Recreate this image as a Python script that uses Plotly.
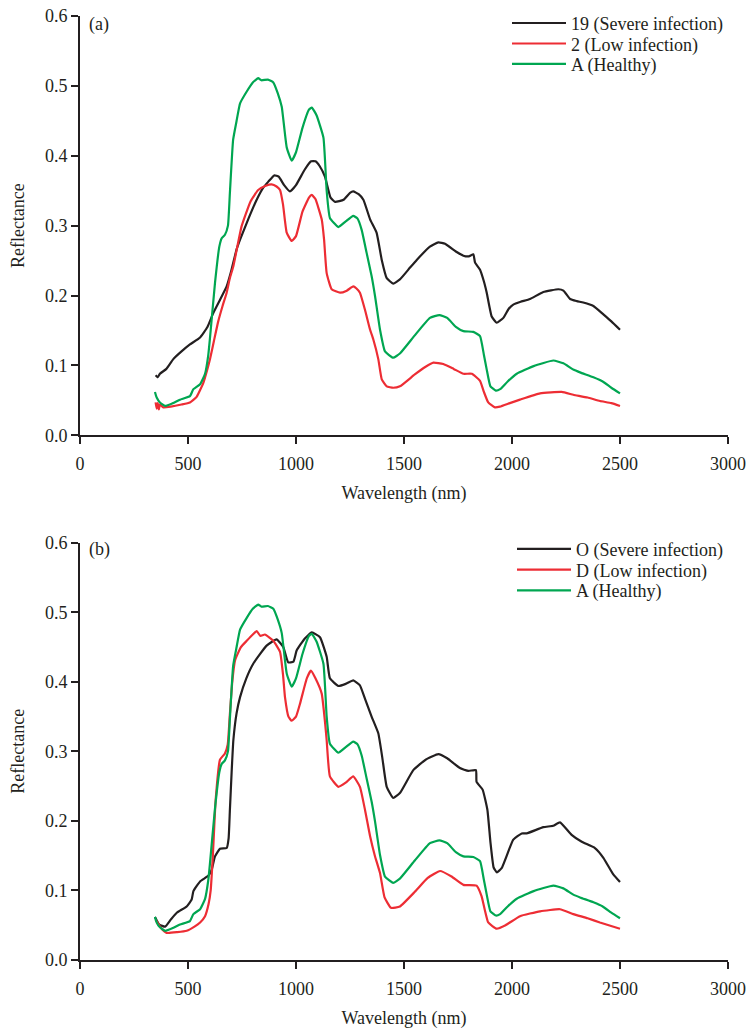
import plotly.graph_objects as go

# ---------------- data ----------------
# Panel (a)
a_black_wl = [350, 360, 370, 400, 432, 470, 509, 556, 590, 617, 650, 679, 700, 725, 741, 780, 818, 850, 872, 900, 920, 945, 972, 1000, 1040, 1070, 1090, 1110, 1134, 1160, 1181, 1220, 1250, 1265, 1290, 1312, 1343, 1373, 1397, 1420, 1450, 1481, 1528, 1559, 1620, 1659, 1690, 1740, 1775, 1800, 1821, 1829, 1852, 1870, 1883, 1906, 1929, 1960, 1985, 2006, 2040, 2083, 2145, 2215, 2238, 2269, 2300, 2330, 2377, 2423, 2460, 2500]
a_black = [0.086, 0.083, 0.088, 0.095, 0.109, 0.120, 0.130, 0.140, 0.155, 0.175, 0.195, 0.213, 0.235, 0.266, 0.280, 0.310, 0.337, 0.355, 0.363, 0.372, 0.370, 0.358, 0.349, 0.358, 0.380, 0.392, 0.392, 0.385, 0.370, 0.340, 0.334, 0.337, 0.347, 0.349, 0.345, 0.337, 0.309, 0.290, 0.251, 0.225, 0.217, 0.223, 0.240, 0.251, 0.270, 0.276, 0.274, 0.263, 0.257, 0.256, 0.259, 0.247, 0.237, 0.220, 0.204, 0.170, 0.161, 0.168, 0.181, 0.187, 0.191, 0.195, 0.205, 0.209, 0.207, 0.195, 0.192, 0.190, 0.185, 0.173, 0.163, 0.151]

a_red_wl = [350, 355, 360, 365, 370, 386, 420, 470, 509, 540, 571, 590, 602, 620, 640, 660, 679, 694, 710, 748, 790, 825, 860, 887, 910, 926, 940, 957, 980, 1000, 1030, 1060, 1073, 1090, 1119, 1130, 1142, 1165, 1204, 1235, 1265, 1280, 1296, 1319, 1343, 1358, 1381, 1397, 1420, 1450, 1481, 1550, 1600, 1636, 1682, 1730, 1775, 1814, 1852, 1870, 1890, 1921, 1944, 1990, 2037, 2130, 2230, 2284, 2350, 2407, 2460, 2500]
a_red = [0.047, 0.038, 0.046, 0.037, 0.044, 0.040, 0.041, 0.044, 0.047, 0.055, 0.075, 0.095, 0.109, 0.135, 0.163, 0.185, 0.204, 0.225, 0.242, 0.299, 0.335, 0.351, 0.357, 0.359, 0.356, 0.351, 0.330, 0.290, 0.278, 0.285, 0.320, 0.340, 0.344, 0.338, 0.309, 0.280, 0.232, 0.209, 0.204, 0.207, 0.213, 0.210, 0.204, 0.180, 0.151, 0.137, 0.109, 0.080, 0.070, 0.068, 0.070, 0.087, 0.098, 0.104, 0.102, 0.095, 0.088, 0.088, 0.078, 0.062, 0.047, 0.040, 0.041, 0.046, 0.051, 0.060, 0.062, 0.058, 0.054, 0.049, 0.046, 0.042]

# Healthy sample A (same in both panels)
healthy_wl = [347, 355, 370, 394, 430, 463, 509, 525, 556, 579, 594, 602, 625, 645, 656, 671, 685, 694, 709, 725, 741, 772, 800, 825, 840, 870, 895, 915, 934, 957, 980, 1000, 1030, 1060, 1073, 1095, 1127, 1142, 1157, 1196, 1230, 1265, 1285, 1304, 1327, 1350, 1366, 1389, 1412, 1450, 1481, 1550, 1620, 1664, 1700, 1740, 1775, 1821, 1852, 1870, 1883, 1900, 1925, 1945, 1980, 2022, 2100, 2191, 2238, 2284, 2315, 2377, 2420, 2460, 2500]
healthy = [0.062, 0.054, 0.047, 0.042, 0.046, 0.051, 0.056, 0.066, 0.073, 0.088, 0.115, 0.140, 0.218, 0.270, 0.282, 0.287, 0.300, 0.347, 0.423, 0.450, 0.475, 0.492, 0.505, 0.511, 0.508, 0.509, 0.505, 0.490, 0.470, 0.412, 0.393, 0.405, 0.440, 0.466, 0.469, 0.458, 0.426, 0.350, 0.311, 0.298, 0.306, 0.314, 0.310, 0.294, 0.261, 0.228, 0.199, 0.151, 0.120, 0.111, 0.117, 0.143, 0.168, 0.172, 0.168, 0.155, 0.149, 0.148, 0.142, 0.115, 0.094, 0.070, 0.064, 0.066, 0.077, 0.088, 0.099, 0.107, 0.103, 0.094, 0.090, 0.083, 0.077, 0.068, 0.060]

# Panel (b)
b_black_wl = [347, 367, 394, 420, 448, 494, 517, 525, 556, 594, 610, 625, 648, 679, 688, 694, 702, 710, 725, 741, 770, 802, 864, 910, 941, 964, 988, 1003, 1040, 1073, 1111, 1142, 1157, 1196, 1230, 1265, 1296, 1320, 1350, 1381, 1400, 1420, 1450, 1481, 1543, 1600, 1659, 1700, 1759, 1798, 1833, 1836, 1864, 1886, 1900, 1915, 1930, 1952, 2006, 2045, 2068, 2145, 2191, 2222, 2276, 2323, 2384, 2423, 2469, 2500]
b_black = [0.062, 0.051, 0.048, 0.058, 0.068, 0.077, 0.087, 0.099, 0.113, 0.121, 0.130, 0.149, 0.160, 0.161, 0.175, 0.216, 0.270, 0.316, 0.355, 0.378, 0.405, 0.426, 0.452, 0.461, 0.450, 0.428, 0.429, 0.445, 0.462, 0.471, 0.464, 0.436, 0.405, 0.394, 0.397, 0.402, 0.395, 0.375, 0.350, 0.326, 0.290, 0.249, 0.233, 0.240, 0.273, 0.288, 0.296, 0.290, 0.276, 0.272, 0.273, 0.256, 0.245, 0.216, 0.170, 0.133, 0.126, 0.132, 0.173, 0.182, 0.182, 0.191, 0.193, 0.198, 0.180, 0.170, 0.161, 0.147, 0.123, 0.112]

b_red_wl = [350, 375, 401, 450, 494, 530, 556, 579, 595, 605, 615, 628, 648, 671, 684, 694, 705, 718, 745, 772, 800, 818, 835, 856, 895, 926, 940, 949, 965, 980, 1000, 1019, 1050, 1069, 1090, 1119, 1135, 1142, 1157, 1196, 1230, 1265, 1296, 1320, 1343, 1365, 1389, 1410, 1440, 1481, 1550, 1610, 1667, 1720, 1775, 1836, 1859, 1890, 1929, 1970, 2037, 2130, 2222, 2284, 2350, 2407, 2500]
b_red = [0.058, 0.046, 0.039, 0.040, 0.042, 0.048, 0.054, 0.063, 0.080, 0.100, 0.150, 0.230, 0.288, 0.297, 0.310, 0.354, 0.400, 0.431, 0.450, 0.459, 0.468, 0.473, 0.466, 0.468, 0.459, 0.443, 0.410, 0.378, 0.350, 0.344, 0.350, 0.369, 0.405, 0.416, 0.405, 0.383, 0.340, 0.316, 0.264, 0.249, 0.255, 0.264, 0.249, 0.215, 0.178, 0.150, 0.125, 0.090, 0.075, 0.077, 0.098, 0.118, 0.128, 0.120, 0.108, 0.107, 0.092, 0.054, 0.045, 0.050, 0.063, 0.070, 0.073, 0.066, 0.060, 0.054, 0.045]

y_ticks = [0.0, 0.1, 0.2, 0.3, 0.4, 0.5, 0.6]
y_tick_text = ["0.0", "0.1", "0.2", "0.3", "0.4", "0.5", "0.6"]
x_ticks = [0, 500, 1000, 1500, 2000, 2500, 3000]

names_a = ["19 (Severe infection)", "2 (Low infection)", "A (Healthy)"]
names_b = ["O (Severe infection)", "D (Low infection)", "A (Healthy)"]

# ---------------- style ----------------
BLACK = "#231f20"
RED = "#ed2d34"
GREEN = "#00a651"
FONT = "Liberation Serif"
TXT = "#231f20"
FS = 18

W, H = 749, 1030
ML, MR, MT, MB = 80, 21, 16, 69.5
PW = W - ML - MR
PH = H - MT - MB
A_BOTTOM = 435.5   # pixel of y=0 in panel (a)
B_TOP = 543.0      # pixel of y=0.6 in panel (b)

def py(p):  # pixel row -> paper y
    return (H - MB - p) / PH

def px(p):  # pixel col -> paper x
    return (p - ML) / PW

fig = go.Figure()

legend_rows = [
    ("legend", 23.3, 515), ("legend2", 43.8, 515), ("legend3", 64.3, 515),
    ("legend4", 549.5, 520), ("legend5", 570.2, 520), ("legend6", 591.0, 520),
]

def add(x, y, name, color, xa, ya, legend):
    fig.add_trace(go.Scatter(
        x=x, y=y, name=name, mode="lines",
        line=dict(color=color, width=2.2, shape="spline", smoothing=0.4),
        xaxis=xa, yaxis=ya, legend=legend,
    ))

add(a_black_wl, a_black, names_a[0], BLACK, "x", "y", "legend")
add(a_red_wl, a_red, names_a[1], RED, "x", "y", "legend2")
add(healthy_wl, healthy, names_a[2], GREEN, "x", "y", "legend3")
add(b_black_wl, b_black, names_b[0], BLACK, "x2", "y2", "legend4")
add(b_red_wl, b_red, names_b[1], RED, "x2", "y2", "legend5")
add(healthy_wl, healthy, names_b[2], GREEN, "x2", "y2", "legend6")

axis_common = dict(
    showline=True, linecolor=BLACK, linewidth=2,
    ticks="outside", ticklen=7, tickwidth=2, tickcolor=BLACK,
    showgrid=False, zeroline=False, mirror=False, automargin=False,
    tickfont=dict(family=FONT, size=FS, color=TXT),
)

xa = dict(axis_common, range=[0, 3000], tickvals=x_ticks, ticklabelstandoff=4,
          title=dict(text="Wavelength (nm)", font=dict(family=FONT, size=FS, color=TXT), standoff=14))
ya = dict(axis_common, range=[0, 0.6], tickvals=y_ticks, ticktext=y_tick_text,
          title=dict(text="Reflectance", font=dict(family=FONT, size=FS, color=TXT), standoff=16))

layout_legends = {}
for key, row, xline in legend_rows:
    layout_legends[key] = dict(
        x=px(xline - 8), xanchor="left", y=py(row), yanchor="middle",
        bgcolor="rgba(0,0,0,0)", font=dict(family=FONT, size=FS, color=TXT),
        itemwidth=54, tracegroupgap=0,
    )

fig.update_layout(
    width=W, height=H,
    margin=dict(l=ML, r=MR, t=MT, b=MB, autoexpand=False),
    paper_bgcolor="white", plot_bgcolor="white",
    font=dict(family=FONT, size=FS, color=TXT),
    xaxis=dict(xa, domain=[0, 1], anchor="y"),
    yaxis=dict(ya, domain=[py(A_BOTTOM), 1], anchor="x"),
    xaxis2=dict(xa, domain=[0, 1], anchor="y2"),
    yaxis2=dict(ya, domain=[0, py(B_TOP)], anchor="x2"),
    showlegend=True,
    annotations=[
        dict(text="(a)", xref="paper", yref="paper", x=px(87), y=py(25), xanchor="left", yanchor="middle",
             showarrow=False, font=dict(family=FONT, size=FS, color=TXT)),
        dict(text="(b)", xref="paper", yref="paper", x=px(87), y=py(550), xanchor="left", yanchor="middle",
             showarrow=False, font=dict(family=FONT, size=FS, color=TXT)),
    ],
    **layout_legends,
)

fig.write_html("out.html", config={"displayModeBar": False},
               post_script="document.body.style.margin='0px';")
